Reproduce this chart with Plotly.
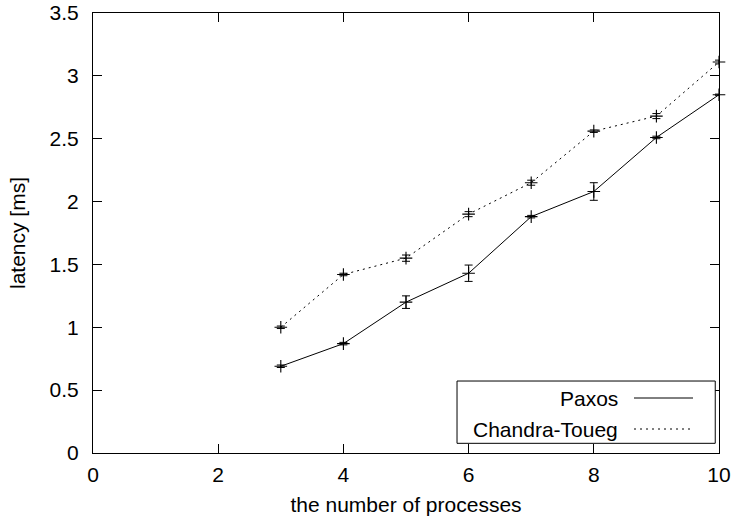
import plotly.graph_objects as go

processes = [3, 4, 5, 6, 7, 8, 9, 10]
paxos = [0.69, 0.87, 1.20, 1.43, 1.88, 2.08, 2.51, 2.85]
paxos_err = [0.01, 0.01, 0.05, 0.065, 0.01, 0.07, 0.01, 0.005]
chandra = [1.00, 1.42, 1.55, 1.90, 2.15, 2.56, 2.68, 3.11]
chandra_err = [0.01, 0.01, 0.025, 0.02, 0.02, 0.01, 0.02, 0.015]

x_ticks = [0, 2, 4, 6, 8, 10]
y_ticks = [0, 0.5, 1, 1.5, 2, 2.5, 3, 3.5]
y_tick_labels = ["0", "0.5", "1", "1.5", "2", "2.5", "3", "3.5"]

FONT = "Liberation Sans, Arial, Helvetica, sans-serif"
FS = 21

fig = go.Figure()

fig.add_trace(go.Scatter(
    x=processes, y=paxos, name="Paxos", mode="lines+markers",
    line=dict(color="black", width=1),
    marker=dict(symbol="cross-thin", size=9, line=dict(color="black", width=1.1)),
    error_y=dict(type="data", array=paxos_err, visible=True, color="black", thickness=1, width=4),
    cliponaxis=False,
))
fig.add_trace(go.Scatter(
    x=processes, y=chandra, name="Chandra-Toueg", mode="lines+markers",
    line=dict(color="black", width=1, dash="2px,4px"),
    marker=dict(symbol="cross-thin", size=9, line=dict(color="black", width=1.1)),
    error_y=dict(type="data", array=chandra_err, visible=True, color="black", thickness=1, width=4),
    cliponaxis=False,
))

# legend box (gnuplot style)
box = dict(x0=0.5815, x1=0.994, y0=0.022, y1=0.1636)
fig.add_shape(type="rect", xref="paper", yref="paper", **box,
              line=dict(color="black", width=1), fillcolor="white", layer="above")
sample_x0 = (634 - 93) / 626
sample_x1 = (693 - 93) / 626
text_x = (620 - 93) / 626
rows = [("Paxos", (453 - 398) / 440, "solid"), ("Chandra-Toueg", (453 - 429) / 440, "2px,4px")]
for label, yy, dash in rows:
    fig.add_annotation(x=text_x, y=yy, xref="paper", yref="paper", text=label,
                       showarrow=False, xanchor="right", yanchor="middle",
                       font=dict(family=FONT, size=FS, color="black"))
    fig.add_shape(type="line", xref="paper", yref="paper", x0=sample_x0, x1=sample_x1,
                  y0=yy, y1=yy, line=dict(color="black", width=1, dash=dash), layer="above")

axis_common = dict(
    showline=True, linecolor="black", linewidth=1, mirror="allticks",
    ticks="inside", ticklen=9, tickwidth=1, tickcolor="black",
    showgrid=False, zeroline=False, automargin=False,
    tickfont=dict(family=FONT, size=FS, color="black"),
)

fig.update_layout(
    width=732, height=521,
    margin=dict(l=93, r=13, t=13, b=68),
    paper_bgcolor="white", plot_bgcolor="white",
    showlegend=False,
    font=dict(family=FONT, size=FS, color="black"),
    xaxis=dict(range=[0, 10], tickvals=x_ticks, ticktext=[str(v) for v in x_ticks],
               ticklabelstandoff=3,
               title=dict(text="the number of processes", font=dict(family=FONT, size=FS), standoff=12),
               **axis_common),
    yaxis=dict(range=[0, 3.5], tickvals=y_ticks, ticktext=y_tick_labels,
               ticklabelstandoff=9,
               title=dict(text="latency [ms]", font=dict(family=FONT, size=FS), standoff=18),
               **axis_common),
)

# remove the default page margin so the figure fills the window exactly
fig.write_html("out.html", config={"displayModeBar": False},
               post_script="document.body.style.margin='0px';")
